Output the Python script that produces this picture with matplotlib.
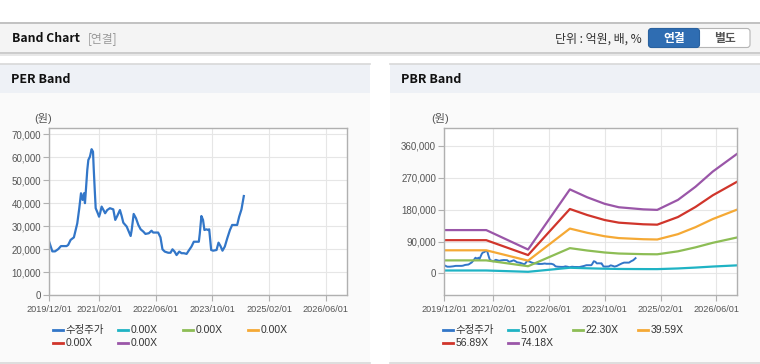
import numpy as np
import matplotlib.pyplot as plt
import matplotlib.dates as mdates
import pandas as pd
from matplotlib.patches import Rectangle, FancyBboxPatch
from matplotlib.lines import Line2D
from matplotlib.ticker import FuncFormatter

plt.rcParams['font.family'] = ['Liberation Sans', 'Noto Sans CJK KR', 'DejaVu Sans']

# 수정주가 (adjusted price)
price_dates = ['2019-12-01', '2019-12-27', '2020-01-19', '2020-02-16', '2020-03-10', '2020-04-27',
               '2020-05-11', '2020-06-01', '2020-06-29', '2020-07-28', '2020-08-14', '2020-08-29',
               '2020-09-12', '2020-09-24', '2020-10-02', '2020-10-10', '2020-10-22', '2020-10-31',
               '2020-11-14', '2020-11-28', '2020-12-10', '2020-12-16', '2020-12-25', '2021-01-02',
               '2021-01-20', '2021-01-31', '2021-02-09', '2021-02-22', '2021-03-10', '2021-03-24',
               '2021-04-11', '2021-05-04', '2021-06-02', '2021-06-19', '2021-07-06', '2021-07-29',
               '2021-08-13', '2021-08-27', '2021-09-25', '2021-10-29', '2021-11-07', '2021-11-24',
               '2021-12-14', '2022-01-03', '2022-01-23', '2022-02-15', '2022-03-05', '2022-04-03',
               '2022-04-26', '2022-05-10', '2022-06-22', '2022-07-12', '2022-07-29', '2022-08-18',
               '2022-09-16', '2022-10-06', '2022-10-23', '2022-11-10', '2022-11-27', '2022-12-20',
               '2023-01-09', '2023-01-29', '2023-02-21', '2023-03-11', '2023-04-04', '2023-04-24',
               '2023-05-16', '2023-06-06', '2023-06-14', '2023-06-28', '2023-07-12', '2023-07-24',
               '2023-08-11', '2023-08-25', '2023-09-03', '2023-09-20', '2023-10-07', '2023-11-05',
               '2023-11-22', '2023-12-09', '2023-12-26', '2024-01-15', '2024-02-05', '2024-02-28',
               '2024-03-18', '2024-04-10', '2024-04-30', '2024-05-17', '2024-06-06', '2024-06-26']
price_values = [23000, 19000, 19000, 20000, 21300, 21300,
                21800, 24000, 25100, 31200, 37700, 44300,
                41400, 44300, 40000, 45700, 54500, 58800,
                60300, 63500, 62400, 55200, 45700, 37800,
                35600, 34100, 35600, 38500, 37000, 35600,
                37000, 37800, 37300, 32700, 34400, 37000,
                34400, 31500, 29800, 25700, 28300, 35300,
                33400, 30500, 28600, 27600, 26600, 26900,
                28000, 27200, 27200, 25100, 19900, 18900,
                18400, 18400, 19900, 18900, 17400, 18900,
                18200, 18200, 17900, 19300, 21100, 23200,
                23200, 23200, 26600, 34400, 32700, 28300,
                28600, 28300, 28600, 19600, 19300, 19600,
                22800, 21300, 19300, 21100, 24700, 28300,
                30500, 30500, 30500, 34100, 37300, 43100]

# PBR band lines
band_dates = ['2019-12-01', '2020-12-01', '2021-03-15', '2021-07-01', '2021-12-01',
              '2022-12-01', '2023-05-01', '2023-10-01', '2024-02-01', '2024-09-01',
              '2025-01-01', '2025-07-01', '2025-12-01', '2026-05-01', '2026-12-01']
band_500 = [8250, 8250, 7200, 6100, 4550, 16000, 14500, 13250, 12600, 12200, 12100, 14000, 16500, 19400, 22800]
band_2230 = [36800, 36800, 32100, 27200, 20300, 71400, 64700, 59100, 56200, 54400, 54000, 62400, 73600, 86500, 101700]
band_3959 = [65300, 65300, 57000, 48300, 36000, 126700, 114800, 104900, 99800, 96600, 95800, 110900, 130600, 153600, 180500]
band_5689 = [93900, 93900, 81900, 69400, 51800, 182000, 165000, 150800, 143400, 138800, 137700, 159300, 187700, 220700, 259400]
band_7418 = [122400, 122400, 106800, 90500, 67500, 237400, 215100, 196600, 186900, 181000, 179500, 207700, 244800, 287800, 338300]

pbr_labels = ['수정주가', '5.00X', '22.30X', '39.59X', '56.89X', '74.18X']
per_labels = ['수정주가', '0.00X', '0.00X', '0.00X', '0.00X', '0.00X']
colors = ['#3276c8', '#1fb3c4', '#8dbd55', '#f5a935', '#d0352b', '#9a56a8']

xtick_dates = ['2019/12/01', '2021/02/01', '2022/06/01', '2023/10/01', '2025/02/01', '2026/06/01']
per_yticks = [0, 10000, 20000, 30000, 40000, 50000, 60000, 70000]
pbr_yticks = [0, 90000, 180000, 270000, 360000]

pdates = pd.to_datetime(price_dates)
bdates = pd.to_datetime(band_dates)
xt = pd.to_datetime(xtick_dates, format='%Y/%m/%d')

W, H = 760, 364
fig = plt.figure(figsize=(W / 100, H / 100), dpi=100)
fig.patch.set_facecolor('white')

# background layer in pixel coords
bg = fig.add_axes([0, 0, 1, 1])
bg.set_xlim(0, W)
bg.set_ylim(H, 0)
bg.axis('off')

# top header bar
bg.add_patch(Rectangle((0, 22), W, 31, facecolor='#f4f4f4', edgecolor='none'))
bg.plot([0, W], [22.5, 22.5], color='#b8b8b8', lw=1.2)
bg.plot([0, W], [53, 53], color='#c4c4c4', lw=1.2)
bg.plot([0, W], [54.5, 54.5], color='#e4e4e4', lw=1.2)
bg.text(12, 38.5, 'Band Chart', fontsize=8.8, fontweight='bold', color='#111',
        family=['Noto Sans CJK KR', 'DejaVu Sans'], va='center', ha='left')
bg.text(88, 38.5, '[연결]', fontsize=8.5, color='#999',
        family=['Noto Sans CJK KR', 'DejaVu Sans'], va='center', ha='left')
bg.text(642, 39, '단위 : 억원, 배, %', fontsize=8.6, color='#333',
        family=['Noto Sans CJK KR', 'DejaVu Sans'], va='center', ha='right')
bg.add_patch(FancyBboxPatch((648.5, 28.5), 101.5, 19, boxstyle='round,pad=0,rounding_size=3',
                            facecolor='white', edgecolor='#b5b5b5', lw=0.8))
bg.add_patch(FancyBboxPatch((648.5, 28.5), 51, 19, boxstyle='round,pad=0,rounding_size=3',
                            facecolor='#2f6db2', edgecolor='#2a62a0', lw=0.8))
bg.text(674, 38.5, '연결', fontsize=8.5, fontweight='bold', color='white',
        family=['Noto Sans CJK KR', 'DejaVu Sans'], va='center', ha='center')
bg.text(725, 38.5, '별도', fontsize=8.5, fontweight='bold', color='#555',
        family=['Noto Sans CJK KR', 'DejaVu Sans'], va='center', ha='center')

# panels
for px0, px1, title in [(0, 370, 'PER Band'), (390, 760, 'PBR Band')]:
    bg.add_patch(Rectangle((px0, 64), px1 - px0, 29, facecolor='#eef1f6', edgecolor='none'))
    bg.add_patch(Rectangle((px0, 93), px1 - px0, 269, facecolor='#fafafa', edgecolor='none'))
    bg.plot([px0, px1], [64, 64], color='#d8d8d8', lw=1.2)
    bg.plot([px0, px1], [362.5, 362.5], color='#d8d8d8', lw=1.2)
    bg.text(px0 + 11, 79.5, title, fontsize=9, fontweight='bold', color='#111',
            family=['Noto Sans CJK KR', 'DejaVu Sans'], va='center', ha='left')

bg.text(43, 118, '(원)', fontsize=8, color='#555', va='center', ha='center')
bg.text(440, 118, '(원)', fontsize=8, color='#555', va='center', ha='center')

# legends
legend_y = [330, 343]
for x0, labels in [(53, per_labels), (443, pbr_labels)]:
    for i, (lab, c) in enumerate(zip(labels, colors)):
        row, col = divmod(i, 4)
        lx = x0 + col * 65
        ly = legend_y[row]
        bg.add_line(Line2D([lx, lx + 10], [ly, ly], color=c, lw=2))
        bg.text(lx + 12.5, ly, lab, fontsize=7.5, color='#333', va='center', ha='left')


def style_axes(ax, yticks):
    ax.set_facecolor('white')
    for s in ax.spines.values():
        s.set_color('#b0b0b0')
        s.set_linewidth(1.0)
    ax.set_xticks(xt)
    ax.xaxis.set_major_formatter(mdates.DateFormatter('%Y/%m/%d'))
    ax.set_yticks(yticks)
    ax.yaxis.set_major_formatter(FuncFormatter(lambda v, p: '{:,.0f}'.format(v)))
    ax.tick_params(axis='both', length=4, width=0.8, color='#b0b0b0', labelcolor='#555')
    ax.tick_params(axis='x', labelsize=6.6, pad=3)
    ax.tick_params(axis='y', labelsize=7, pad=2)
    ax.grid(True, color='#e6e6e6', lw=0.8)
    ax.set_axisbelow(True)
    ax.set_xlim(pd.Timestamp('2019-12-01'), pd.Timestamp('2026-12-01'))


# PER band
ax1 = fig.add_axes([49.3 / W, 1 - 295 / H, 298 / W, 166.7 / H])
style_axes(ax1, per_yticks)
ax1.plot(pdates, price_values, color=colors[0], lw=1.6)
ax1.set_ylim(0, 72600)

# PBR band
ax2 = fig.add_axes([444.3 / W, 1 - 295 / H, 293 / W, 166.7 / H])
style_axes(ax2, pbr_yticks)
ax2.plot(pdates, price_values, color=colors[0], lw=1.4)
for vals, c in zip([band_500, band_2230, band_3959, band_5689, band_7418], colors[1:]):
    ax2.plot(bdates, vals, color=c, lw=1.6)
ax2.set_ylim(-61000, 410000)

fig.savefig('out.png', dpi=100, facecolor='white')
